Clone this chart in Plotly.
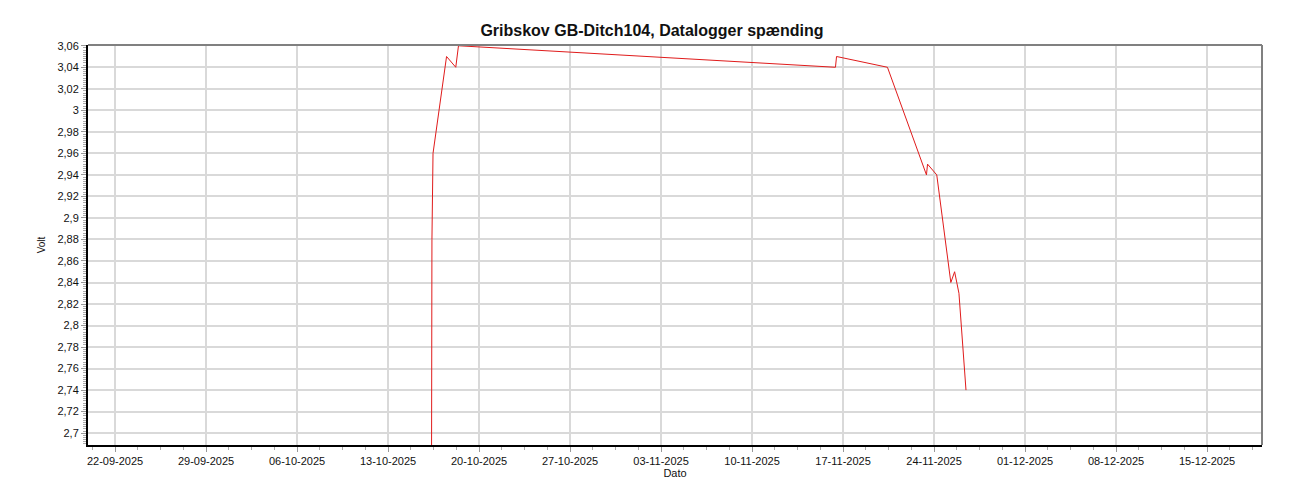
import plotly.graph_objects as go

# Data
dates = [
    "2025-10-16 08:00", "2025-10-16 09:00", "2025-10-16 11:00", "2025-10-17 12:00",
    "2025-10-18 05:00", "2025-10-18 10:00", "2025-11-16 10:00", "2025-11-16 12:00",
    "2025-11-20 10:00", "2025-11-23 10:00", "2025-11-23 12:00", "2025-11-24 05:00",
    "2025-11-25 07:00", "2025-11-25 14:00", "2025-11-25 22:00", "2025-11-26 11:00",
]
volts = [2.60, 2.88, 2.96, 3.05, 3.04, 3.06, 3.04, 3.05,
         3.04, 2.94, 2.95, 2.94, 2.84, 2.85, 2.83, 2.74]

y_tickvals = [3.06, 3.04, 3.02, 3.00, 2.98, 2.96, 2.94, 2.92, 2.90, 2.88, 2.86,
              2.84, 2.82, 2.80, 2.78, 2.76, 2.74, 2.72, 2.70]
y_ticktext = ["3,06", "3,04", "3,02", "3", "2,98", "2,96", "2,94", "2,92", "2,9", "2,88",
              "2,86", "2,84", "2,82", "2,8", "2,78", "2,76", "2,74", "2,72", "2,7"]

title_text = "Gribskov GB-Ditch104, Datalogger spænding"
x_range = ["2025-09-19 22:00", "2025-12-19 05:30"]
y_range = [2.689, 3.0607]

DAY = 86400000
W, H = 1292, 492  # page body has an 8px margin

fig = go.Figure()
fig.add_trace(go.Scatter(
    x=dates, y=volts, mode="lines",
    line=dict(color="#e01b1b", width=1),
    hoverinfo="x+y", showlegend=False,
))

font_family = "Liberation Sans, Arial, sans-serif"

fig.update_layout(
    width=W, height=H,
    paper_bgcolor="white", plot_bgcolor="white",
    margin=dict(l=80, r=38, t=37, b=55, pad=0),
    font=dict(family=font_family, size=11, color="#111111"),
    title=dict(text="<b>" + title_text + "</b>", x=(652 - 8) / W, xanchor="center",
               y=1 - 22 / H, yanchor="middle", yref="container", xref="container",
               font=dict(size=16, color="#111111", family=font_family)),
    xaxis=dict(
        type="date", range=x_range,
        tick0="2025-09-22", dtick=7 * DAY, tickformat="%d-%m-%Y",
        showgrid=True, gridcolor="#d9d9d9", gridwidth=2,
        showline=True, linecolor="black", linewidth=2,
        ticks="outside", ticklen=5, tickcolor="#999999", tickwidth=1,
        minor=dict(dtick=1.75 * DAY, tick0="2025-09-22", ticks="outside",
                   ticklen=3, tickcolor="#aaaaaa", showgrid=False),
        zeroline=False,
        title=dict(text="Dato", font=dict(size=11), standoff=2),
        tickfont=dict(size=11),
    ),
    yaxis=dict(
        range=y_range,
        tickvals=y_tickvals, ticktext=y_ticktext,
        showgrid=True, gridcolor="#d9d9d9", gridwidth=2,
        showline=True, linecolor="black", linewidth=2,
        ticks="outside", ticklen=5, tickcolor="#999999", tickwidth=1,
        minor=dict(dtick=0.002, ticks="outside", ticklen=3,
                   tickcolor="#aaaaaa", showgrid=False),
        zeroline=False,
        title=dict(text="Volt", font=dict(size=10), standoff=10),
        tickfont=dict(size=11),
    ),
    shapes=[
        dict(type="line", xref="paper", yref="paper", x0=0, x1=1, y0=1, y1=1,
             line=dict(color="#808080", width=2)),
        dict(type="line", xref="paper", yref="paper", x0=1, x1=1, y0=0, y1=1,
             line=dict(color="#808080", width=2)),
    ],
)

fig.write_html("out.html")
